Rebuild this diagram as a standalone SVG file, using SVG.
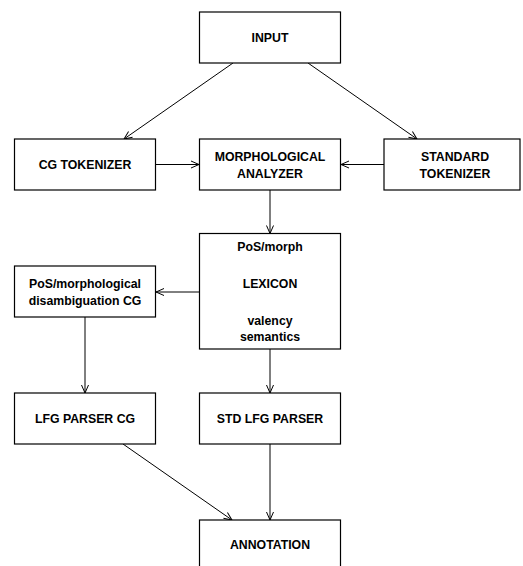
<svg xmlns="http://www.w3.org/2000/svg" width="523" height="566" viewBox="0 0 523 566">
<defs>
<style>
.box{fill:#fff;stroke:#000;stroke-width:1.2}
.t{font-family:"Liberation Sans",Arial,sans-serif;font-weight:bold;font-size:12.3px;text-anchor:middle;fill:#000}
.c{fill:none;stroke:#000;stroke-width:1;marker-end:url(#a)}
</style>
<marker id="a" viewBox="0 0 10 10" refX="9" refY="5" markerWidth="10" markerHeight="10" markerUnits="userSpaceOnUse" orient="auto">
<path d="M1,1.5 L9,5 L1,8.5" fill="none" stroke="#000" stroke-width="1"/>
</marker>
</defs>
<rect width="523" height="566" fill="#fff"/>
<g id="connectors">
<line class="c" x1="233" y1="63" x2="124" y2="139"/>
<line class="c" x1="308" y1="63" x2="417" y2="139"/>
<line class="c" x1="156" y1="164.5" x2="199" y2="164.5"/>
<line class="c" x1="384" y1="164.5" x2="341" y2="164.5"/>
<line class="c" x1="270" y1="190" x2="270" y2="233.5"/>
<line class="c" x1="199" y1="292" x2="156" y2="292"/>
<line class="c" x1="85" y1="317" x2="85" y2="393"/>
<line class="c" x1="270" y1="349" x2="270" y2="393"/>
<line class="c" x1="123" y1="444" x2="232" y2="520"/>
<line class="c" x1="270" y1="444" x2="270" y2="520"/>
</g>
<g id="input"><rect class="box" x="199.5" y="12" width="141" height="51"/><text class="t" x="270" y="42">INPUT</text></g>
<g id="cg-tokenizer"><rect class="box" x="14.5" y="139" width="141" height="51"/><text class="t" x="85" y="169">CG TOKENIZER</text></g>
<g id="morph-analyzer"><rect class="box" x="199.5" y="139" width="141" height="51"/><text class="t" x="270" y="161">MORPHOLOGICAL</text><text class="t" x="270" y="177.5">ANALYZER</text></g>
<g id="standard-tokenizer"><rect class="box" x="384" y="139" width="136" height="51"/><text class="t" x="455" y="161">STANDARD</text><text class="t" x="455" y="177.5">TOKENIZER</text></g>
<g id="lexicon"><rect class="box" x="199.5" y="233.5" width="141" height="115.5"/><text class="t" x="270" y="251">PoS/morph</text><text class="t" x="270" y="288">LEXICON</text><text class="t" x="270" y="325">valency</text><text class="t" x="270" y="341">semantics</text></g>
<g id="pos-disamb"><rect class="box" x="14.5" y="266" width="141" height="51"/><text class="t" x="85" y="288">PoS/morphological</text><text class="t" x="85" y="304.5">disambiguation CG</text></g>
<g id="lfg-parser-cg"><rect class="box" x="14.5" y="393" width="141" height="51"/><text class="t" x="85" y="423">LFG PARSER CG</text></g>
<g id="std-lfg-parser"><rect class="box" x="199.5" y="393" width="141" height="51"/><text class="t" x="270" y="423">STD LFG PARSER</text></g>
<g id="annotation"><rect class="box" x="199.5" y="520" width="141" height="51"/><text class="t" x="270" y="549">ANNOTATION</text></g>
</svg>
